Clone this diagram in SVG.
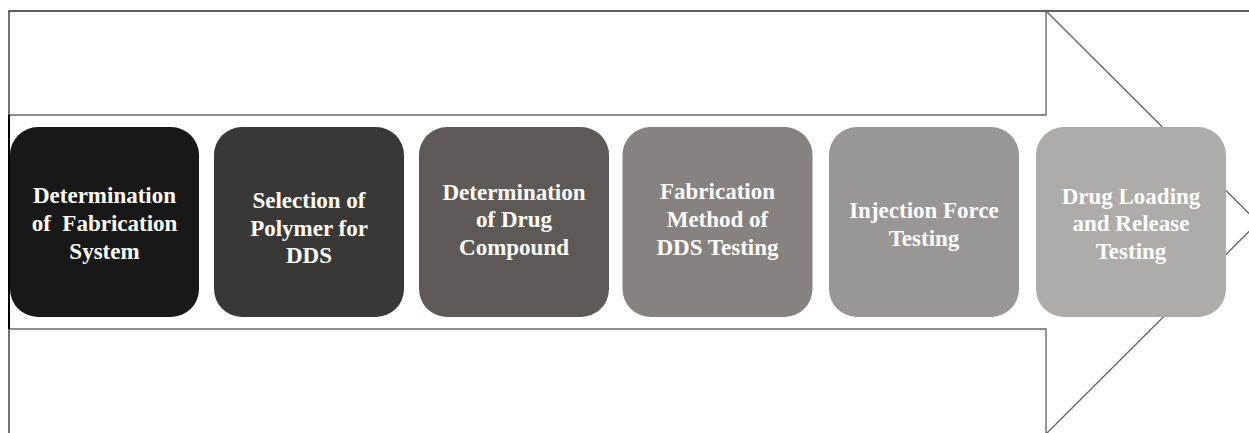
<svg xmlns="http://www.w3.org/2000/svg" width="1249" height="433" viewBox="0 0 1249 433">
  <style>
    .frame { fill: none; stroke: #2a2a2a; stroke-width: 1.3; }
    .arrow { fill: #ffffff; stroke: #6a6a6a; stroke-width: 1.4; stroke-linejoin: miter; }
    .edge { stroke: #000000; stroke-width: 2; }
    .step { stroke: none; }
    .label { font-family: "Liberation Serif", "Times New Roman", serif; font-weight: bold; font-size: 23px; fill: #ffffff; text-anchor: middle; white-space: pre; }
  </style>
  <rect width="1249" height="433" fill="#ffffff"/>

  <!-- outer frame (top and left edges visible) -->
  <path class="frame" d="M9,433 V11 H1249"/>

  <!-- large process arrow behind the steps -->
  <g id="flow-arrow">
    <polygon class="arrow" points="9,115 1046,115 1046,11 1258,222.5 1046,434 1046,329 9,329"/>
    <line class="edge" x1="9" y1="115" x2="9" y2="329"/>
  </g>

  <g id="step-1">
    <rect class="step" x="10" y="127" width="189" height="190" rx="28" fill="#181818"/>
    <text class="label" x="104.5" y="203">Determination</text>
    <text class="label" x="104.5" y="231">of  Fabrication</text>
    <text class="label" x="104.5" y="259">System</text>
  </g>

  <g id="step-2">
    <rect class="step" x="214" y="127" width="190" height="190" rx="28" fill="#3a3837"/>
    <text class="label" x="309" y="208">Selection of</text>
    <text class="label" x="309" y="236">Polymer for</text>
    <text class="label" x="309" y="263">DDS</text>
  </g>

  <g id="step-3">
    <rect class="step" x="419" y="127" width="190" height="190" rx="28" fill="#5e5957"/>
    <text class="label" x="514" y="200">Determination</text>
    <text class="label" x="514" y="227">of Drug</text>
    <text class="label" x="514" y="255">Compound</text>
  </g>

  <g id="step-4">
    <rect class="step" x="622.5" y="127" width="190" height="190" rx="28" fill="#87817f"/>
    <text class="label" x="717.5" y="199">Fabrication</text>
    <text class="label" x="717.5" y="227">Method of</text>
    <text class="label" x="717.5" y="255">DDS Testing</text>
  </g>

  <g id="step-5">
    <rect class="step" x="829" y="127" width="190" height="190" rx="28" fill="#9a9695"/>
    <text class="label" x="924" y="218">Injection Force</text>
    <text class="label" x="924" y="246">Testing</text>
  </g>

  <g id="step-6">
    <rect class="step" x="1036" y="127" width="190" height="190" rx="28" fill="#afaba9"/>
    <text class="label" x="1131" y="204">Drug Loading</text>
    <text class="label" x="1131" y="231">and Release</text>
    <text class="label" x="1131" y="259">Testing</text>
  </g>
</svg>
